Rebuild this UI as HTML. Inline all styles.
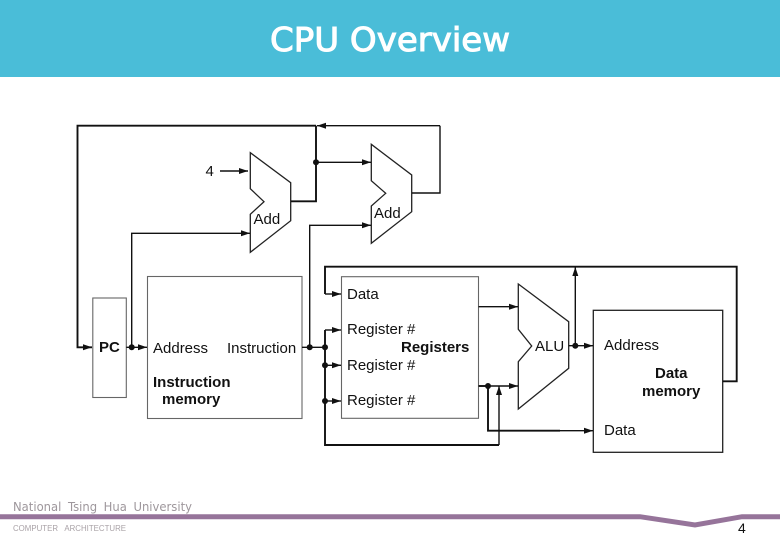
<!DOCTYPE html>
<html>
<head>
<meta charset="utf-8">
<style>
html,body{margin:0;padding:0;background:#fff;width:780px;height:540px;overflow:hidden}
svg{display:block}
text{font-family:"Liberation Sans",sans-serif;fill:#111}
.w{fill:none;stroke:#111;stroke-width:1.4}
.t{fill:none;stroke:#111;stroke-width:1.9}
.b{fill:none;stroke:#666;stroke-width:1.1}
.k{fill:none;stroke:#222;stroke-width:1.3}
.l{font-size:15px}
.bd{font-size:15px;font-weight:bold}
</style>
</head>
<body>
<svg width="780" height="540" viewBox="0 0 780 540" xmlns="http://www.w3.org/2000/svg">
<defs>
<marker id="a" markerUnits="userSpaceOnUse" markerWidth="10" markerHeight="8" refX="9" refY="4" orient="auto"><path d="M0 1L9 4L0 7Z" fill="#111"/></marker>
</defs>
<rect x="0" y="0" width="780" height="77" fill="#4abdd8"/>
<text x="270" y="51" textLength="240" lengthAdjust="spacingAndGlyphs" style="font-family:'DejaVu Sans',sans-serif;font-size:33px;fill:#fff" stroke="#fff" stroke-width="1">CPU Overview</text>

<!-- boxes -->
<rect x="147.5" y="276.5" width="154.5" height="142" class="b"/>
<rect x="92.8" y="298" width="33.5" height="99.5" class="b"/>
<rect x="341.5" y="276.7" width="137" height="141.6" class="b"/>
<rect x="593.3" y="310.3" width="129.4" height="142" class="k"/>

<!-- adders and ALU -->
<path class="k" d="M250.3 152.7L290.7 182.7V220.7L250.3 252.3V214.3L264 201.7L250.3 188.7Z"/>
<path class="k" d="M371.3 144.3L411.7 175V211.7L371.3 243.3V206L385.7 193.3L371.3 180.7Z"/>
<path class="k" d="M518.3 284L568.7 321.7V368.3L518.3 409V361.7L531.7 346L518.3 329.3Z"/>

<!-- wires -->
<path class="t" d="M92 347.3H77.5V125.7H316"/>
<path class="w" d="M440 125.7H317" marker-end="url(#a)"/>
<path class="w" d="M412 193H440V125.7"/>
<path class="t" d="M291 201.3H316V125.7"/>
<path class="w" d="M316 162.3H371" marker-end="url(#a)"/>
<path class="w" d="M220 171H248" stroke="#444" marker-end="url(#a)"/>
<path class="w" d="M131.7 347.3V233.3H250" marker-end="url(#a)"/>
<path class="w" d="M309.7 347.3V225.3H371" marker-end="url(#a)"/>
<path class="w" d="M126.3 347.3H147" marker-end="url(#a)"/>
<path class="w" d="M77.5 347.3H92" marker-end="url(#a)"/>
<path class="w" d="M302 347.3H325"/>
<path class="t" d="M325 330V445H499"/>
<path class="w" d="M325 330H341" marker-end="url(#a)"/>
<path class="w" d="M325 365.3H341" marker-end="url(#a)"/>
<path class="w" d="M325 401H341" marker-end="url(#a)"/>
<path class="t" d="M722.7 381.3H736.7V266.7H325V294"/>
<path class="w" d="M325 294H341" marker-end="url(#a)"/>
<path class="w" d="M478.5 306.7H518" marker-end="url(#a)"/>
<path class="t" d="M478.5 386H490"/>
<path class="w" d="M490 386H518" marker-end="url(#a)"/>
<path class="t" d="M488 386V430.7H560"/>
<path class="w" d="M560 430.7H593" marker-end="url(#a)"/>
<path class="w" d="M499 445V386" marker-end="url(#a)"/>
<path class="w" d="M568.7 345.7H593" marker-end="url(#a)"/>
<path class="w" d="M575.3 345.7V267" marker-end="url(#a)"/>

<!-- dots -->
<g fill="#111">
<circle cx="316" cy="162.3" r="3"/>
<circle cx="131.7" cy="347.3" r="3"/>
<circle cx="309.7" cy="347.3" r="3"/>
<circle cx="325" cy="347.3" r="3"/>
<circle cx="325" cy="365.3" r="3"/>
<circle cx="325" cy="401" r="3"/>
<circle cx="488" cy="386" r="3"/>
<circle cx="575.3" cy="345.7" r="3"/>
</g>

<!-- labels -->
<text x="205.5" y="176" class="l">4</text>
<text x="253.5" y="224" class="l">Add</text>
<text x="374" y="218" class="l">Add</text>
<text x="99" y="352" class="bd">PC</text>
<text x="153" y="353" class="l">Address</text>
<text x="227" y="353" class="l">Instruction</text>
<text x="153" y="387" class="bd">Instruction</text>
<text x="162" y="404" class="bd">memory</text>
<text x="347" y="299" class="l">Data</text>
<text x="347" y="334" class="l">Register #</text>
<text x="401" y="352" class="bd">Registers</text>
<text x="347" y="370" class="l">Register #</text>
<text x="347" y="405" class="l">Register #</text>
<text x="535" y="351" class="l">ALU</text>
<text x="604" y="350" class="l">Address</text>
<text x="655" y="378" class="bd">Data</text>
<text x="642" y="396" class="bd">memory</text>
<text x="604" y="435" class="l">Data</text>

<!-- footer -->
<text x="13" y="511" textLength="179" lengthAdjust="spacingAndGlyphs" style="font-family:'DejaVu Sans',sans-serif;font-size:12px;fill:#9e979c;word-spacing:3px">National Tsing Hua University</text>
<path d="M0 516.7H640L695 525L742 516.7H780" fill="none" stroke="#96749a" stroke-width="5"/>
<text x="13" y="531" textLength="113" lengthAdjust="spacingAndGlyphs" style="font-size:8.5px;fill:#a9a2a7;word-spacing:5px">COMPUTER ARCHITECTURE</text>
<text x="738" y="533" style="font-size:14px;fill:#111">4</text>
</svg>
</body>
</html>
